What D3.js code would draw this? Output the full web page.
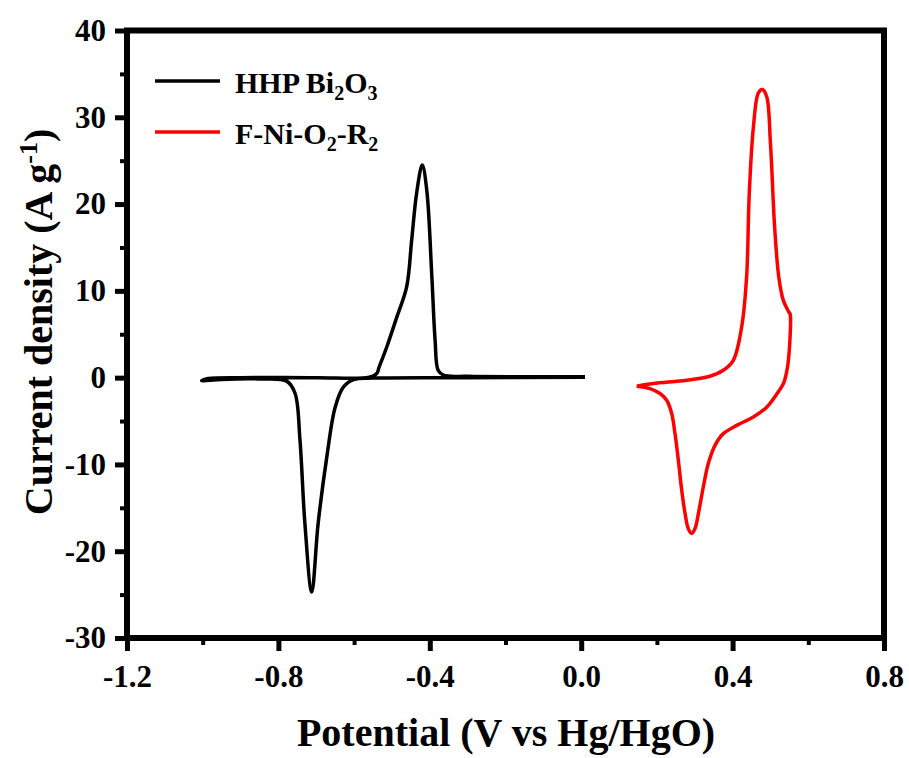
<!DOCTYPE html>
<html>
<head>
<meta charset="utf-8">
<script src="https://cdn.jsdelivr.net/npm/d3@7"></script>
<style>
  body { margin: 0; background: #fff; }
  svg { font-family: "Liberation Serif", "Times New Roman", serif; font-weight: bold; }
</style>
</head>
<body>
<div id="chart"></div>
<script>
const WIDTH = 909;
const HEIGHT = 758;
const MARGIN = { top: 30.5, right: 25, bottom: 120, left: 127 };
const FONT = "'Liberation Serif', 'Times New Roman', serif";

// tick values
const xTicks = [-1.2, -0.8, -0.4, 0.0, 0.4, 0.8];
const xMinorTicks = [-1.0, -0.6, -0.2, 0.2, 0.6];
const yTicks = [-30, -20, -10, 0, 10, 20, 30, 40];
const yMinorTicks = [-25, -15, -5, 5, 15, 25, 35];

// HHP Bi2O3 loop: potential (V) and current density (A/g)
const bi2o3Potential = [0.01, -0.3, -0.55, -0.60, -0.628, -0.65, -0.672, -0.695, -0.712, -0.730, -0.743, -0.756, -0.778, -0.85, -0.95, -1.003,
    -0.985, -0.9, -0.7, -0.56, -0.540, -0.534, -0.514, -0.487, -0.461, -0.448, -0.435, -0.420, -0.408, -0.395, -0.386, -0.378, -0.364, -0.3, -0.1, 0.01];
const bi2o3Current = [0.05, 0.0, -0.05, -0.2, -1.07, -3.4, -9.1, -16.8, -24.7, -16.8, -7.2, -1.8, -0.4, -0.15, -0.2, -0.35,
    -0.1, 0.0, 0.0, 0.05, 0.5, 1.2, 3.5, 7.0, 10.5, 15.8, 21.2, 24.5, 21.6, 12.0, 4.3, 0.85, 0.28, 0.15, 0.1, 0.1];

// F-Ni-O2-R2 loop
const fniPotential = [0.1466, 0.1905, 0.2787, 0.3403, 0.3754, 0.4018, 0.424, 0.437, 0.444, 0.455, 0.468, 0.4785, 0.490, 0.500, 0.511, 0.522, 0.534, 0.548, 0.552,
    0.551, 0.545, 0.535, 0.5165, 0.4901, 0.4547, 0.4108, 0.3754, 0.3535, 0.3358, 0.3226, 0.3112, 0.3006, 0.2919, 0.2830, 0.2742, 0.2655, 0.2566, 0.2478, 0.2391, 0.2259, 0.2082, 0.1818, 0.1466];
const fniCurrent = [-0.99, -0.68, -0.30, 0.16, 0.85, 2.0, 5.85, 11.6, 21.2, 28.9, 32.8, 33.2, 32.4, 27.0, 17.4, 11.6, 8.9, 7.6, 7.3,
    4.0, 1.2, -0.6, -1.9, -3.4, -4.54, -5.5, -6.45, -7.8, -9.9, -12.6, -15.3, -17.4, -17.96, -17.4, -15.6, -12.96, -9.5, -6.45, -4.15, -2.61, -1.83, -1.26, -0.99];

const plotW = WIDTH - MARGIN.left - MARGIN.right;
const plotH = HEIGHT - MARGIN.top - MARGIN.bottom;

const svg = d3.select("#chart").append("svg")
    .attr("width", WIDTH)
    .attr("height", HEIGHT);

const g = svg.append("g")
    .attr("transform", `translate(${MARGIN.left},${MARGIN.top})`);

const x = d3.scaleLinear().domain([-1.2, 0.8]).range([0, plotW]);
const y = d3.scaleLinear().domain([-30, 40]).range([plotH, 0]);

// minor ticks
g.append("g")
    .attr("transform", `translate(0,${plotH})`)
    .call(d3.axisBottom(x).tickValues(xMinorTicks).tickSize(7).tickFormat(""))
    .call(a => a.select(".domain").remove())
    .selectAll("line").attr("stroke-width", 4);
g.append("g")
    .call(d3.axisLeft(y).tickValues(yMinorTicks).tickSize(7).tickFormat(""))
    .call(a => a.select(".domain").remove())
    .selectAll("line").attr("stroke-width", 4);

// major ticks
const xAxis = g.append("g")
    .attr("transform", `translate(0,${plotH})`)
    .call(d3.axisBottom(x).tickValues(xTicks).tickSize(13).tickPadding(14).tickFormat(d => d.toFixed(1)))
    .attr("font-family", FONT)
    .attr("font-size", 31);
xAxis.select(".domain").remove();
xAxis.selectAll("line").attr("stroke-width", 5);
xAxis.selectAll("text").attr("fill", "#000");

const yAxis = g.append("g")
    .call(d3.axisLeft(y).tickValues(yTicks).tickSize(12).tickPadding(9).tickFormat(d => String(d)))
    .attr("font-family", FONT)
    .attr("font-size", 31);
yAxis.select(".domain").remove();
yAxis.selectAll("line").attr("stroke-width", 5);
yAxis.selectAll("text").attr("fill", "#000");

// frame
g.append("rect")
    .attr("width", plotW)
    .attr("height", plotH)
    .attr("fill", "none")
    .attr("stroke", "#000")
    .attr("stroke-width", 6);

// curves
const line = d3.line()
    .x(d => x(d[0]))
    .y(d => y(d[1]))
    .curve(d3.curveCatmullRom.alpha(0.5));

const series = [
    { xs: bi2o3Potential, ys: bi2o3Current, color: "#000" },
    { xs: fniPotential, ys: fniCurrent, color: "#ff0000" }
];

series.forEach(s => {
    g.append("path")
        .datum(d3.zip(s.xs, s.ys))
        .attr("fill", "none")
        .attr("stroke", s.color)
        .attr("stroke-width", 3.5)
        .attr("stroke-linejoin", "round")
        .attr("d", line);
});

// legend
const legend = svg.append("g");
const legendItems = [
    { color: "#000", y: 81, parts: [["HHP Bi", 0], ["2", 1], ["O", 0], ["3", 1]] },
    { color: "#ff0000", y: 132, parts: [["F-Ni-O", 0], ["2", 1], ["-R", 0], ["2", 1]] }
];
legendItems.forEach(item => {
    legend.append("line")
        .attr("x1", 155).attr("x2", 220)
        .attr("y1", item.y).attr("y2", item.y)
        .attr("stroke", item.color)
        .attr("stroke-width", 3.5);
    const t = legend.append("text")
        .attr("x", 235).attr("y", item.y + 12)
        .attr("font-size", 30);
    item.parts.forEach((p, i) => {
        const dy = p[1] ? 7 : (i > 0 ? -7 : 0);
        t.append("tspan")
            .attr("font-size", p[1] ? 20 : 30)
            .attr("dy", dy)
            .text(p[0]);
    });
});

// axis titles
svg.append("text")
    .attr("x", 506)
    .attr("y", 746)
    .attr("text-anchor", "middle")
    .attr("font-size", 40)
    .text("Potential (V vs Hg/HgO)");

const yt = svg.append("text")
    .attr("transform", "translate(52,322) rotate(-90)")
    .attr("text-anchor", "middle")
    .attr("font-size", 40);
yt.append("tspan").text("Current density (A g");
yt.append("tspan").attr("font-size", 26).attr("dy", -15).text("-1");
yt.append("tspan").attr("dy", 15).text(")");
</script>
</body>
</html>
